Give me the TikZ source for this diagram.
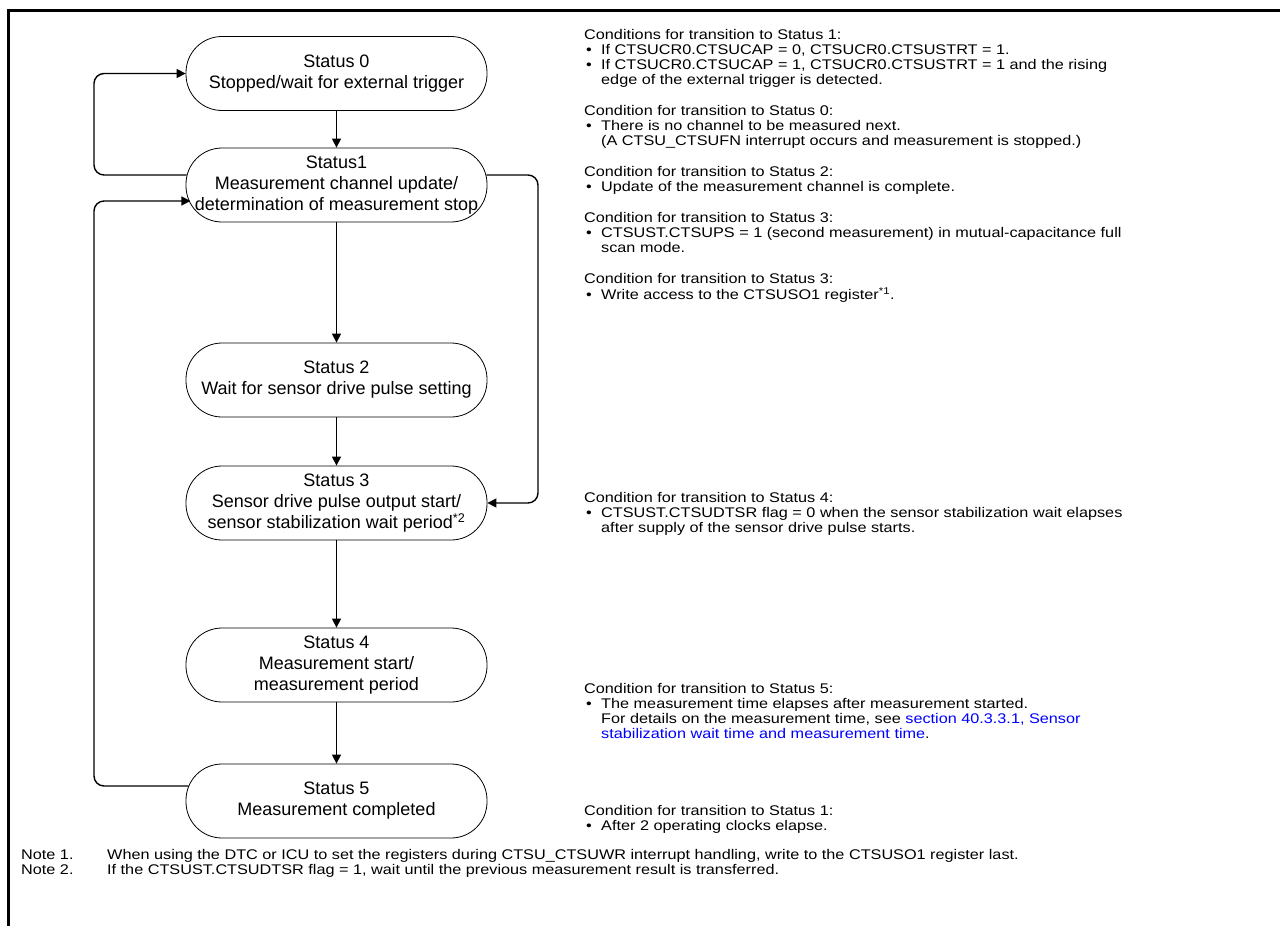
\documentclass[tikz,border=0pt]{standalone}
\usepackage{fontspec}
\setmainfont{Liberation Sans}
\newfontfamily\widefont[FakeStretch=1.16]{Liberation Sans}
\usetikzlibrary{arrows.meta}
\definecolor{linkblue}{RGB}{0,0,255}
\newcommand{\mybul}{\makebox[17pt][l]{\hspace{2pt}•}}
\newcommand{\myind}{\hspace*{17pt}}
\newcommand{\blk}[1]{\begin{tabular}[t]{@{}l@{}}#1\end{tabular}}
\begin{document}
\begin{tikzpicture}[x=1pt,y=-1pt,
  state/.style={draw, line width=0.8pt, rounded corners=36pt, minimum width=301pt, minimum height=74pt, inner sep=0pt, align=center, font=\fontsize{18}{21}\selectfont},
  conn/.style={line width=1.4pt, -{Triangle[length=9pt,width=9pt]}},
  loopc/.style={conn, rounded corners=10pt},
  txt/.style={anchor=base west, inner sep=0pt, font=\widefont\fontsize{14}{15.3}\selectfont},
]
\useasboundingbox (0,0) rectangle (1280,926);
\fill[white] (0,0) rectangle (1280,926);
\draw[line width=3pt] (8,926) -- (8,10) -- (1281,10);

\node[state] (s0) at (336.5,73.5) {Status 0\\Stopped/wait for external trigger};
\node[state] (s1) at (336.5,185) {Status1\\Measurement channel update/\\determination of measurement stop};
\node[state] (s2) at (336.5,380) {Status 2\\Wait for sensor drive pulse setting};
\node[state] (s3) at (336.5,503) {Status 3\\Sensor drive pulse output start/\\sensor stabilization wait period\textsuperscript{*2}};
\node[state] (s4) at (336.5,665) {Status 4\\Measurement start/\\measurement period};
\node[state] (s5) at (336.5,801) {Status 5\\Measurement completed};

\coordinate (lx) at (94,0);
\coordinate (rx) at (538,0);
\coordinate (s1l) at ([xshift=1pt,yshift=10pt]s1.west);
\coordinate (s1in) at ([xshift=4.8pt,yshift=-16pt]s1.west);
\coordinate (s1r) at ([xshift=-1pt,yshift=10pt]s1.east);
\coordinate (s5l) at ([xshift=2.8pt,yshift=15pt]s5.west);

\draw[conn] (s0.south) -- (s1.north);
\draw[conn] (s1.south) -- (s2.north);
\draw[conn] (s2.south) -- (s3.north);
\draw[conn] (s3.south) -- (s4.north);
\draw[conn] (s4.south) -- (s5.north);
\draw[loopc] (s1l) -- (s1l -| lx) -- (lx |- s0.west) -- (s0.west);
\draw[loopc] (s5l) -- (s5l -| lx) -- (lx |- s1in) -- (s1in);
\draw[loopc] (s1r) -- (s1r -| rx) -- (rx |- s3.east) -- (s3.east);

\node[txt] (c1) at (584,39) {\blk{Conditions for transition to Status 1:\\
\mybul If CTSUCR0.CTSUCAP = 0, CTSUCR0.CTSUSTRT = 1.\\
\mybul If CTSUCR0.CTSUCAP = 1, CTSUCR0.CTSUSTRT = 1 and the rising\\
\myind edge of the external trigger is detected.}};
\node[txt] (c0) at (584,115) {\blk{Condition for transition to Status 0:\\
\mybul There is no channel to be measured next.\\
\myind (A CTSU\_CTSUFN interrupt occurs and measurement is stopped.)}};
\node[txt] (c2) at (584,176) {\blk{Condition for transition to Status 2:\\
\mybul Update of the measurement channel is complete.}};
\node[txt] (c3a) at (584,222) {\blk{Condition for transition to Status 3:\\
\mybul CTSUST.CTSUPS = 1 (second measurement) in mutual-capacitance full\\
\myind scan mode.}};
\node[txt] (c3b) at (584,283) {\blk{Condition for transition to Status 3:\\
\mybul Write access to the CTSUSO1 register\textsuperscript{*1}.}};
\node[txt] (c4) at (584,502) {\blk{Condition for transition to Status 4:\\
\mybul CTSUST.CTSUDTSR flag = 0 when the sensor stabilization wait elapses\\
\myind after supply of the sensor drive pulse starts.}};
\node[txt] (c5) at (584,693) {\blk{Condition for transition to Status 5:\\
\mybul The measurement time elapses after measurement started.\\
\myind For details on the measurement time, see {\color{linkblue}section 40.3.3.1, Sensor}\\
\myind {\color{linkblue}stabilization wait time and measurement time}.}};
\node[txt] (c1b) at (584,815) {\blk{Condition for transition to Status 1:\\
\mybul After 2 operating clocks elapse.}};

\node[txt] (n1l) at (21,859) {Note 1.};
\node[txt] (n1) at (107,859) {When using the DTC or ICU to set the registers during CTSU\_CTSUWR interrupt handling, write to the CTSUSO1 register last.};
\node[txt] (n2l) at (21,874) {Note 2.};
\node[txt] (n2) at (107,874) {If the CTSUST.CTSUDTSR flag = 1, wait until the previous measurement result is transferred.};
\end{tikzpicture}
\end{document}
